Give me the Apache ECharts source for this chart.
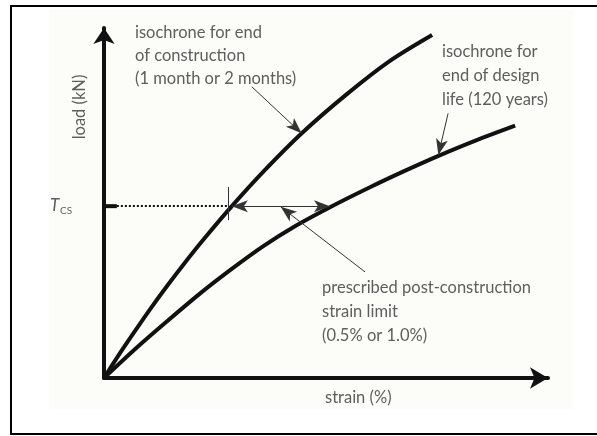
<!DOCTYPE html>
<html>
<head>
<meta charset="utf-8">
<script src="https://cdn.jsdelivr.net/npm/echarts@6/dist/echarts.min.js"></script>
<style>
html,body{margin:0;padding:0;background:#fff;}
#chart{width:597px;height:436px;}
</style>
</head>
<body>
<div id="chart"></div>
<script>
// ---- data (schematic units: strain 0..10, load 0..10) ----
const endOfConstructionStrain = [0, 0.36, 0.68, 1.04, 1.42, 1.80, 2.25, 2.88, 3.60, 4.46, 5.47, 6.44, 7.39];
const endOfConstructionLoad   = [0, 0.71, 1.31, 1.97, 2.63, 3.26, 3.97, 4.91, 5.91, 7.00, 8.11, 9.06, 9.80];
const endOfDesignLifeStrain   = [0, 0.74, 1.42, 2.16, 2.84, 3.58, 4.32, 5.09, 5.99, 6.76, 7.52, 8.38, 9.26];
const endOfDesignLifeLoad     = [0, 0.87, 1.62, 2.41, 3.08, 3.76, 4.35, 4.88, 5.45, 5.91, 6.34, 6.79, 7.21];
const tcsLoad = 4.91;
const strainLimitFrom = 2.88;   // strain on construction isochrone at T_CS
const strainLimitTo = 5.09;     // strain on design-life isochrone at T_CS
const tcsTickStrain = [-0.27, 0.29];
const dottedToStrain = 2.79;
const markerTickLoad = [5.46, 4.51];
const pointerConstruction = [[3.33, 8.32], [4.45, 6.99]];
const pointerDesignLife = [[7.75, 7.56], [7.53, 6.37]];
const pointerStrainLimit = [[5.88, 3.03], [3.98, 4.89]];

const labelConstruction = ['isochrone for end', 'of construction', '(1 month or 2 months)'];
const labelDesignLife = ['isochrone for', 'end of design', 'life (120 years)'];
const labelStrainLimit = ['prescribed post-construction', 'strain limit', '(0.5% or 1.0%)'];
const xAxisTitle = 'strain (%)';
const yAxisTitle = 'load (kN)';
const tcsSymbol = 'T';
const tcsSubscript = 'CS';

// ---- chart ----
const chart = echarts.init(document.getElementById('chart'), null, {renderer: 'canvas'});
const FONT = 'Lato, "Liberation Sans", sans-serif';
const TXT = '#5e5e5e';
const FS = '16.5px ';

function pairs(xs, ys) { return xs.map((x, i) => [x, ys[i]]); }
function seg(a, b, s0, s1) {
  return [{coord: a, symbol: s0}, {coord: b, symbol: s1}];
}

const option = {
  animation: false,
  backgroundColor: '#ffffff',
  grid: {left: 104, top: 28, width: 444, height: 350, containLabel: false},
  xAxis: {
    type: 'value', min: 0, max: 10,
    axisLine: {show: true, onZero: false, symbol: ['none', 'arrow'], symbolSize: [16, 18],
      lineStyle: {color: '#111', width: 4}},
    axisTick: {show: false}, axisLabel: {show: false}, splitLine: {show: false}
  },
  yAxis: {
    type: 'value', min: 0, max: 10,
    axisLine: {show: true, onZero: false, symbol: ['none', 'arrow'], symbolSize: [16, 16],
      lineStyle: {color: '#111', width: 4}},
    axisTick: {show: false}, axisLabel: {show: false}, splitLine: {show: false}
  },
  series: [
    {
      name: 'end of construction', type: 'line', smooth: 0.3, showSymbol: false, silent: true,
      data: pairs(endOfConstructionStrain, endOfConstructionLoad),
      lineStyle: {color: '#111', width: 4}
    },
    {
      name: 'end of design life', type: 'line', smooth: 0.3, showSymbol: false, silent: true,
      data: pairs(endOfDesignLifeStrain, endOfDesignLifeLoad),
      lineStyle: {color: '#111', width: 4}
    },
    {
      name: 'tcs tick', type: 'line', clip: false, silent: true, showSymbol: false,
      data: [[tcsTickStrain[0], tcsLoad], [tcsTickStrain[1], tcsLoad]],
      lineStyle: {color: '#111', width: 4}
    },
    {
      name: 'tcs dotted', type: 'line', data: [], clip: false, silent: true,
      markLine: {
        silent: true, animation: false, label: {show: false}, symbol: 'none',
        lineStyle: {color: '#111', width: 2, type: [2, 2]},
        data: [seg([tcsTickStrain[1], tcsLoad], [dottedToStrain, tcsLoad], 'none', 'none')]
      }
    },
    {
      name: 'annotations', type: 'line', data: [], clip: false, silent: true,
      markLine: {
        silent: true, animation: false, label: {show: false},
        symbolSize: [9, 16],
        lineStyle: {color: '#333', width: 1, type: 'solid'},
        data: [
          seg([dottedToStrain, markerTickLoad[0]], [dottedToStrain, markerTickLoad[1]], 'none', 'none'),
          seg([strainLimitFrom, tcsLoad], [strainLimitTo, tcsLoad], 'arrow', 'arrow'),
          seg(pointerConstruction[0], pointerConstruction[1], 'none', 'arrow'),
          seg(pointerDesignLife[0], pointerDesignLife[1], 'none', 'arrow'),
          seg(pointerStrainLimit[0], pointerStrainLimit[1], 'none', 'arrow')
        ]
      }
    }
  ],
  graphic: [
    {type: 'rect', z: -10, silent: true, shape: {x: 49, y: 10, width: 524, height: 399},
      style: {fill: '#fcfcf8', stroke: null}},
    {type: 'rect', z: 100, silent: true, shape: {x: 11, y: 6, width: 620, height: 428},
      style: {fill: null, stroke: '#000', lineWidth: 2}},
    {type: 'text', silent: true, x: 135, y: 21,
      style: {text: labelConstruction.join('\n'), font: FS + FONT, fill: TXT, lineHeight: 23, align: 'left', verticalAlign: 'top'}},
    {type: 'text', silent: true, x: 442, y: 40,
      style: {text: labelDesignLife.join('\n'), font: FS + FONT, fill: TXT, lineHeight: 24, align: 'left', verticalAlign: 'top'}},
    {type: 'text', silent: true, x: 322, y: 276,
      style: {text: labelStrainLimit.join('\n'), font: FS + FONT, fill: TXT, lineHeight: 24, align: 'left', verticalAlign: 'top'}},
    {type: 'text', silent: true, x: 325, y: 398,
      style: {text: xAxisTitle, font: FS + FONT, fill: TXT, align: 'left', verticalAlign: 'middle'}},
    {type: 'text', silent: true, x: 80, y: 107, rotation: Math.PI / 2,
      style: {text: yAxisTitle, font: FS + FONT, fill: TXT, align: 'center', verticalAlign: 'middle'}},
    {type: 'text', silent: true, x: 50, y: 206,
      style: {text: tcsSymbol, font: 'italic 17px ' + FONT, fill: TXT, align: 'left', verticalAlign: 'middle'}},
    {type: 'text', silent: true, x: 60, y: 211,
      style: {text: tcsSubscript, font: '10px ' + FONT, fill: TXT, align: 'left', verticalAlign: 'middle'}}
  ]
};
chart.setOption(option);
</script>
</body>
</html>
